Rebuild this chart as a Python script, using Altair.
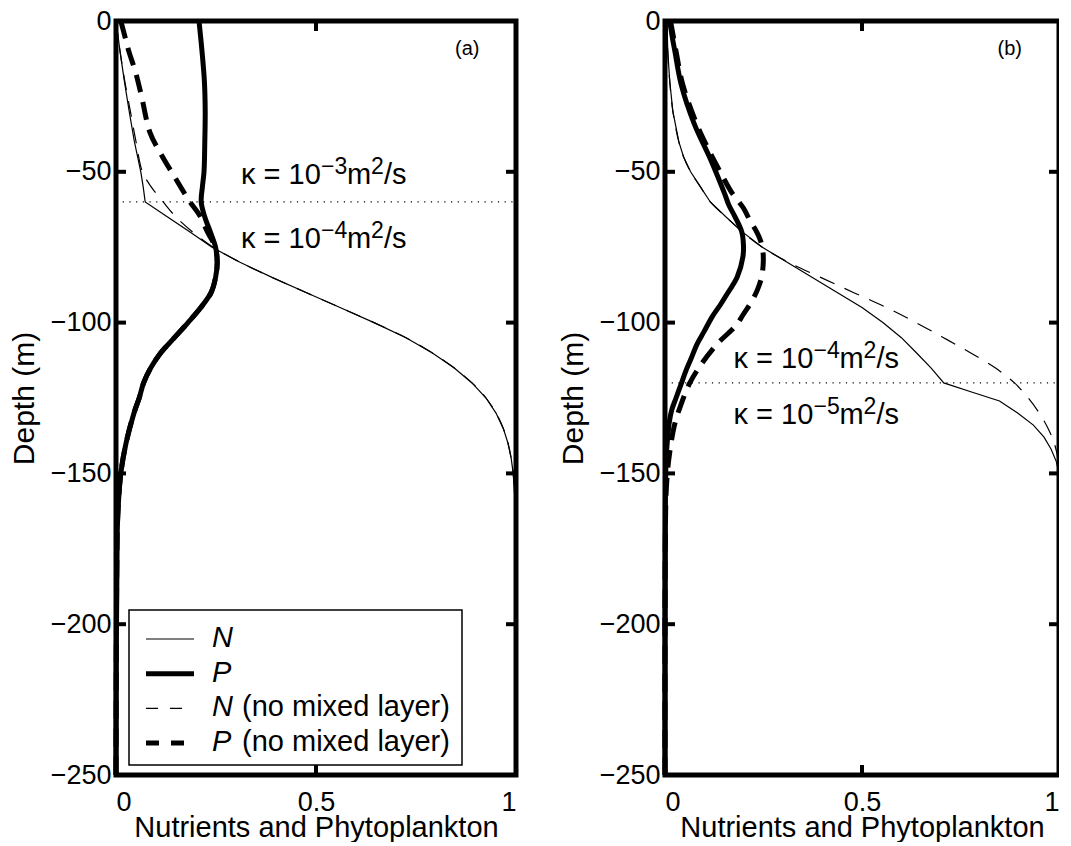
import altair as alt
import pandas as pd

FONT = "Liberation Sans"

# ---------------- Panel (a) data ----------------
a_N_depth = [0, -10, -20, -30, -40, -50, -55, -60, -65, -70, -75, -80, -85, -90, -95,
             -100, -105, -110, -115, -120, -125, -130, -135, -140, -145, -150, -160, -170, -250]
a_N_x = [0.0, 0.01, 0.021, 0.033, 0.046, 0.062, 0.068, 0.073, 0.129, 0.185, 0.24, 0.31, 0.39,
         0.475, 0.56, 0.645, 0.725, 0.79, 0.845, 0.89, 0.925, 0.95, 0.968, 0.98, 0.988, 0.993,
         0.998, 1.0, 1.0]

a_Nn_depth = [0, -10, -20, -30, -40, -50, -55, -60, -65, -70, -75, -80, -85, -90, -95,
              -100, -105, -110, -115, -120, -125, -130, -135, -140, -145, -150, -160, -170, -250]
a_Nn_x = [0.0, 0.01, 0.022, 0.036, 0.05, 0.066, 0.088, 0.118, 0.15, 0.192, 0.243, 0.31, 0.39,
          0.475, 0.56, 0.645, 0.725, 0.79, 0.845, 0.89, 0.925, 0.95, 0.968, 0.98, 0.988, 0.993,
          0.998, 1.0, 1.0]

a_P_depth = [0, -10, -20, -30, -40, -50, -55, -60, -65, -70, -75, -80, -85, -90, -95, -100,
             -105, -110, -115, -120, -125, -130, -140, -150, -160, -170, -250]
a_P_x = [0.2075, 0.215, 0.221, 0.223, 0.222, 0.22, 0.216, 0.213, 0.222, 0.236, 0.249, 0.253,
         0.249, 0.238, 0.212, 0.18, 0.146, 0.112, 0.087, 0.069, 0.058, 0.045, 0.025, 0.012,
         0.006, 0.003, 0.0]

a_Pn_depth = [0, -5, -10, -17, -25, -37, -44, -52, -60, -64, -70, -75, -80, -85, -90, -95, -100,
              -105, -110, -115, -120, -125, -130, -140, -150, -160, -170, -250]
a_Pn_x = [0.012, 0.022, 0.032, 0.049, 0.064, 0.085, 0.112, 0.148, 0.185, 0.207, 0.229, 0.248,
          0.253, 0.249, 0.238, 0.212, 0.18, 0.146, 0.112, 0.087, 0.069, 0.058, 0.045, 0.025,
          0.012, 0.006, 0.003, 0.0]

# ---------------- Panel (b) data ----------------
b_N_depth = [0, -10, -20, -30, -40, -45, -50, -55, -60, -65, -70, -75, -80, -85, -90, -95, -100,
             -105, -110, -115, -120, -123, -126, -130, -134, -138, -142, -146, -150, -250]
b_N_x = [0.005, 0.007, 0.012, 0.02, 0.035, 0.047, 0.065, 0.09, 0.115, 0.155, 0.197, 0.247,
         0.31, 0.373, 0.437, 0.5, 0.553, 0.6, 0.638, 0.675, 0.7075, 0.778, 0.849, 0.895, 0.935,
         0.962, 0.98, 0.993, 1.0, 1.0]

b_Nn_depth = [0, -10, -20, -30, -40, -45, -50, -55, -60, -65, -70, -75, -80, -85, -90, -95, -100,
              -105, -110, -115, -120, -125, -130, -135, -140, -145, -150, -250]
b_Nn_x = [0.005, 0.007, 0.012, 0.02, 0.035, 0.047, 0.065, 0.09, 0.115, 0.155, 0.197, 0.247,
          0.313, 0.395, 0.478, 0.562, 0.637, 0.707, 0.775, 0.838, 0.887, 0.922, 0.95, 0.972,
          0.988, 0.997, 1.0, 1.0]

b_P_depth = [0, -5, -10, -21, -34, -46, -57.5, -61, -65, -70, -74, -78, -85, -90, -94, -98,
             -103, -107, -112, -116, -120, -125, -129, -133, -137, -145, -160, -250]
b_P_x = [0.012, 0.018, 0.025, 0.041, 0.074, 0.116, 0.152, 0.162, 0.178, 0.195, 0.199, 0.198,
         0.183, 0.16, 0.141, 0.12, 0.099, 0.082, 0.066, 0.053, 0.042, 0.028, 0.017, 0.011,
         0.0075, 0.003, 0.001, 0.0]

b_Pn_depth = [0, -10, -21, -34, -43, -50, -57, -62, -66, -70, -73, -77, -81, -85, -89, -93, -97,
              -101, -107, -114, -120, -127, -134, -143, -150, -160, -250]
b_Pn_x = [0.014, 0.028, 0.045, 0.08, 0.112, 0.14, 0.17, 0.199, 0.215, 0.233, 0.243, 0.249,
          0.249, 0.245, 0.235, 0.22, 0.2, 0.18, 0.133, 0.091, 0.063, 0.041, 0.024, 0.012,
          0.006, 0.002, 0.0]

# ---------------- axes / annotations ----------------
x_ticks = [0, 0.5, 1]
y_ticks = [-250, -200, -150, -100, -50, 0]
x_title = "Nutrients and Phytoplankton"
y_title = "Depth (m)"

a_layer_depth = [-60]
b_layer_depth = [-120]
a_kappa_x = [0.3125, 0.3125]
a_kappa_depth = [-54, -75.2]
a_kappa_exp = ["\u22123", "\u22124"]
b_kappa_x = [0.174, 0.174]
b_kappa_depth = [-115, -133.7]
b_kappa_exp = ["\u22124", "\u22125"]
a_tag, a_tag_x, a_tag_depth = "(a)", 0.878, -9.3
b_tag, b_tag_x, b_tag_depth = "(b)", 0.875, -9.3

legend_names = ["N", "P", "N", "P"]
legend_suffix = ["", "", "(no mixed layer)", "(no mixed layer)"]

WA, WB, H = 400, 394, 754
THIN, THICK = 1.2, 5
DASH_THIN, DASH_THICK = [16, 11], [18, 10]

xscale = alt.Scale(domain=[0, 1], nice=False, zero=False)
yscale = alt.Scale(domain=[-250, 0], nice=False, zero=False)
xaxis = alt.Axis(values=x_ticks, format="~g", title=x_title, labelFontSize=27,
                 titleFontSize=29, labelPadding=14, titlePadding=-2, labelOverlap=False)
yaxis = alt.Axis(values=y_ticks, format="d", title=y_title, labelFontSize=27,
                 titleFontSize=30, labelPadding=5, titlePadding=11, labelOverlap=False)


def X(field):
    return alt.X(field, scale=xscale, axis=xaxis, title=x_title)


def Y(field):
    return alt.Y(field, scale=yscale, axis=yaxis, title=y_title)


def curve(depths, xs, width, dash=None, interp="linear"):
    df = pd.DataFrame({"depth": depths, "x": xs, "i": list(range(len(depths)))})
    kw = dict(color="black", strokeWidth=width, interpolate=interp, strokeCap="butt")
    if dash:
        kw["strokeDash"] = dash
    return alt.Chart(df).mark_line(**kw).encode(
        x=X("x:Q"), y=Y("depth:Q"), order=alt.Order("i:Q"),
    )


def ticks(w):
    tx = pd.DataFrame({"x": x_ticks})
    ty = pd.DataFrame({"depth": y_ticks})
    L = 10
    base_x = alt.Chart(tx).mark_rule(color="black", strokeWidth=4)
    base_y = alt.Chart(ty).mark_rule(color="black", strokeWidth=4)
    return [
        base_x.encode(x=X("x:Q"), y=alt.value(0), y2=alt.value(L)),
        base_x.encode(x=X("x:Q"), y=alt.value(H), y2=alt.value(H - L)),
        base_y.encode(y=Y("depth:Q"), x=alt.value(0), x2=alt.value(L)),
        base_y.encode(y=Y("depth:Q"), x=alt.value(w), x2=alt.value(w - L)),
    ]


def layer_line(depths):
    df = pd.DataFrame({"depth": depths, "x": [0] * len(depths), "x1": [1] * len(depths)})
    return alt.Chart(df).mark_rule(color="black", strokeWidth=1.2, strokeDash=[1.2, 5.5]).encode(
        x=X("x:Q"), x2="x1:Q", y=Y("depth:Q"),
    )


def kappa(xs, depths, exps):
    df = pd.DataFrame({"x": xs, "depth": depths, "exp": exps})
    enc = dict(x=X("x:Q"), y=Y("depth:Q"))
    base = alt.Chart(df)
    pieces = [
        ("\u03ba = 10", 29, 0, 0),
        (None, 23, 80, -10),
        ("m", 29, 106, 0),
        ("2", 23, 130, -10),
        ("/s", 29, 143, 0),
    ]
    out = []
    for txt, fs, dx, dy in pieces:
        m = base.mark_text(align="left", baseline="alphabetic", font=FONT, fontSize=fs,
                           dx=dx, dy=dy, color="black")
        if txt is None:
            out.append(m.encode(text="exp:N", **enc))
        else:
            out.append(m.encode(text=alt.value(txt), **enc))
    return out


def tag(t, tx, td):
    df = pd.DataFrame({"x": [tx], "depth": [td], "t": [t]})
    return alt.Chart(df).mark_text(font=FONT, fontSize=20, align="center", baseline="middle",
                                   color="black").encode(
        x=X("x:Q"), y=Y("depth:Q"), text="t:N",
    )


def legend():
    box = alt.Chart(pd.DataFrame({"k": [0]})).mark_rect(
        fill="white", stroke="black", strokeWidth=1.5
    ).encode(x=alt.value(13), x2=alt.value(346), y=alt.value(589), y2=alt.value(744))
    out = [box]
    styles = [(THIN, None), (THICK, None), (THIN, [12, 12]), (THICK, [13, 12])]
    y0, step = 618, 34.7
    for i, (name, suf) in enumerate(zip(legend_names, legend_suffix)):
        ly = y0 + i * step
        w, d = styles[i]
        kw = dict(color="black", strokeWidth=w, strokeCap="butt")
        if d:
            kw["strokeDash"] = d
        out.append(alt.Chart(pd.DataFrame({"k": [i]})).mark_rule(**kw).encode(
            x=alt.value(30), x2=alt.value(78), y=alt.value(ly)))
        out.append(alt.Chart(pd.DataFrame({"t": [name]})).mark_text(
            font=FONT, fontSize=29, fontStyle="italic", align="left", baseline="alphabetic",
            color="black").encode(text="t:N", x=alt.value(96), y=alt.value(ly + 8)))
        if suf:
            out.append(alt.Chart(pd.DataFrame({"t": [suf]})).mark_text(
                font=FONT, fontSize=29, align="left", baseline="alphabetic",
                color="black").encode(text="t:N", x=alt.value(126), y=alt.value(ly + 8)))
    return out


panel_a = alt.layer(
    curve(a_N_depth, a_N_x, THIN),
    layer_line(a_layer_depth),
    curve(a_Nn_depth, a_Nn_x, THIN, DASH_THIN, "catmull-rom"),
    curve(a_Pn_depth, a_Pn_x, THICK, DASH_THICK, "catmull-rom"),
    curve(a_P_depth, a_P_x, THICK, None, "catmull-rom"),
    *ticks(WA),
    *kappa(a_kappa_x, a_kappa_depth, a_kappa_exp),
    tag(a_tag, a_tag_x, a_tag_depth),
    *legend(),
).properties(width=WA, height=H)

panel_b = alt.layer(
    curve(b_N_depth, b_N_x, THIN),
    layer_line(b_layer_depth),
    curve(b_Nn_depth, b_Nn_x, THIN, DASH_THIN, "catmull-rom"),
    curve(b_Pn_depth, b_Pn_x, THICK, DASH_THICK, "catmull-rom"),
    curve(b_P_depth, b_P_x, THICK, None, "catmull-rom"),
    *ticks(WB),
    *kappa(b_kappa_x, b_kappa_depth, b_kappa_exp),
    tag(b_tag, b_tag_x, b_tag_depth),
).properties(width=WB, height=H)

chart = alt.hconcat(panel_a, panel_b, spacing=33).configure(
    padding={"left": -2, "top": -4, "right": -6, "bottom": -3}, background="white"
).configure_view(stroke="black", strokeWidth=5).configure_axis(
    domain=False, ticks=False, grid=False, labelFont=FONT, titleFont=FONT,
    labelColor="black", titleColor="black", titleFontWeight="normal"
)

chart.save("out.html", embed_options={"renderer": "svg", "actions": False})
